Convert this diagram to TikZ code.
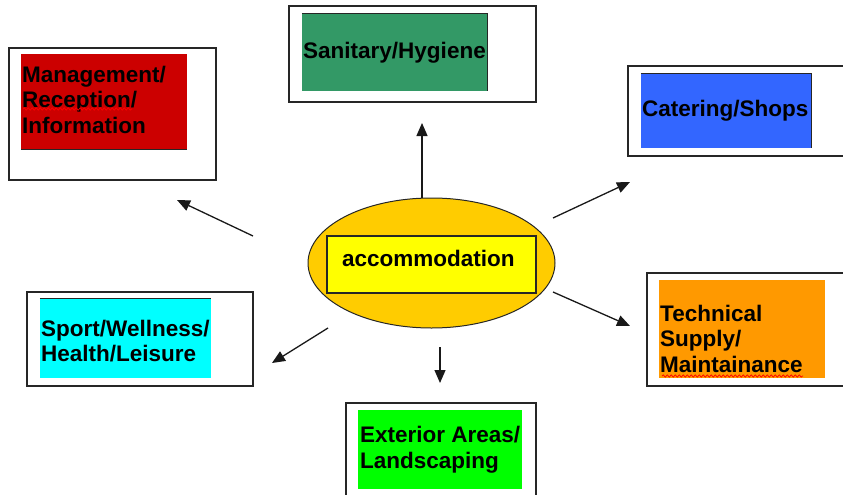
\documentclass[tikz,border=0pt]{standalone}
\usepackage{fontspec}
\setmainfont{Liberation Sans}
\usetikzlibrary{arrows.meta,shapes.geometric,decorations.pathmorphing}
\definecolor{cred}{HTML}{CC0000}
\definecolor{csan}{HTML}{339966}
\definecolor{cblue}{HTML}{3366FF}
\definecolor{cgold}{HTML}{FFCC00}
\definecolor{cyel}{HTML}{FFFF00}
\definecolor{ccyan}{HTML}{00FFFF}
\definecolor{corange}{HTML}{FF9900}
\definecolor{clime}{HTML}{00FF00}
\begin{document}
\begin{tikzpicture}[x=1pt,y=-1pt,
  frame/.style={draw=black!85, line width=1.5pt, fill=white, inner sep=0pt, minimum width=#1},
  fillbox/.style={fill=#1, draw=none, inner sep=0pt},
  lbl/.style={anchor=west, inner sep=0pt, align=left, font=\fontsize{22.5}{25.5}\selectfont\bfseries},
  conn/.style={draw=black!90, line width=1.3pt, -{Triangle[length=13pt,width=11pt]}},
  edge/.style={draw=black!85, line width=1.2pt},
  squig/.style={draw=red, line width=0.7pt, decorate, decoration={snake, amplitude=1.2pt, segment length=4pt}}
]
\useasboundingbox (0,0) rectangle (843,495);
\clip (0,0) rectangle (843,495);
% outer frames
\node[frame=207pt, minimum height=132pt] (mgmtF) at (112.5,114) {};
\node[frame=247pt, minimum height=96pt] (sanF) at (412.5,54) {};
\node[frame=232pt, minimum height=90pt] (catF) at (744,111) {};
\node[frame=226pt, minimum height=94pt] (spoF) at (140,339) {};
\node[frame=223pt, minimum height=113pt] (tecF) at (758.5,329.5) {};
\node[frame=190pt, minimum height=107pt] (extF) at (441,456.5) {};
% coloured boxes
\node[fillbox=cred, minimum width=166pt, minimum height=95pt] (mgmt) at (104,101.5) {};
\node[fillbox=csan, minimum width=185pt, minimum height=77pt] (san) at (394.5,52.5) {};
\node[fillbox=cblue, minimum width=170pt, minimum height=74pt] (cat) at (726,111) {};
\node[fillbox=ccyan, minimum width=171pt, minimum height=79pt] (spo) at (125.5,338.5) {};
\node[fillbox=corange, minimum width=166pt, minimum height=98pt] (tec) at (742,329) {};
\node[fillbox=clime, minimum width=164pt, minimum height=79pt] (ext) at (440,449.5) {};
% dark edges of coloured boxes
\draw[edge] (mgmt.south west) -- (mgmt.south east);
\draw[edge] (san.north west) -- (san.north east) -- (san.south east);
\draw[edge] (cat.north west) -- (cat.north east) -- (cat.south east);
\draw[edge] (spo.north west) -- (spo.north east);
% centre
\node[ellipse, draw=black!85, line width=1pt, fill=cgold, minimum width=247pt, minimum height=130pt, inner sep=0pt] (acc) at (431.5,263) {};
\node[draw=black!85, line width=1.3pt, fill=cyel, minimum width=209pt, minimum height=57pt, inner sep=0pt] (accbox) at (431.5,264.5) {};
% labels
\node[lbl] (mgmtT) at (22,99.5) {Management/\\Reception/\\Information};
\node[lbl] (sanT) at (303,53) {Sanitary/Hygiene};
\node[lbl] (catT) at (642,111) {Catering/Shops};
\node[lbl] (accT) at (342,258) {accommodation};
\node[lbl] (spoT) at (41,341) {Sport/Wellness/\\Health/Leisure};
\node[lbl] (tecT) at (660,338.5) {Technical\\Supply/\\Maintainance};
\node[lbl] (extT) at (360,449.5) {Exterior Areas/\\Landscaping};
% spell-check squiggles
\coordinate (sq1a) at (23,109); \coordinate (sq1b) at (132,109);
\coordinate (sq2a) at (662,376); \coordinate (sq2b) at (803,376);
\draw[squig] (sq1a) -- (sq1b);
\draw[squig] (sq2a) -- (sq2b);
% connectors
\coordinate (m0) at (253,236); \coordinate (m1) at (177,200);
\coordinate (s0) at (422,198); \coordinate (s1) at (422,123);
\coordinate (c0) at (553,218); \coordinate (c1) at (630,182);
\coordinate (t0) at (553,292); \coordinate (t1) at (630,326);
\coordinate (e0) at (440,347); \coordinate (e1) at (440,383);
\coordinate (p0) at (328,328); \coordinate (p1) at (272,363);
\draw[conn] (m0) -- (m1);
\draw[conn] (acc.north -| s0) -- (s1);
\draw[conn] (c0) -- (c1);
\draw[conn] (t0) -- (t1);
\draw[conn] (e0) -- (e1);
\draw[conn] (p0) -- (p1);
\end{tikzpicture}
\end{document}
